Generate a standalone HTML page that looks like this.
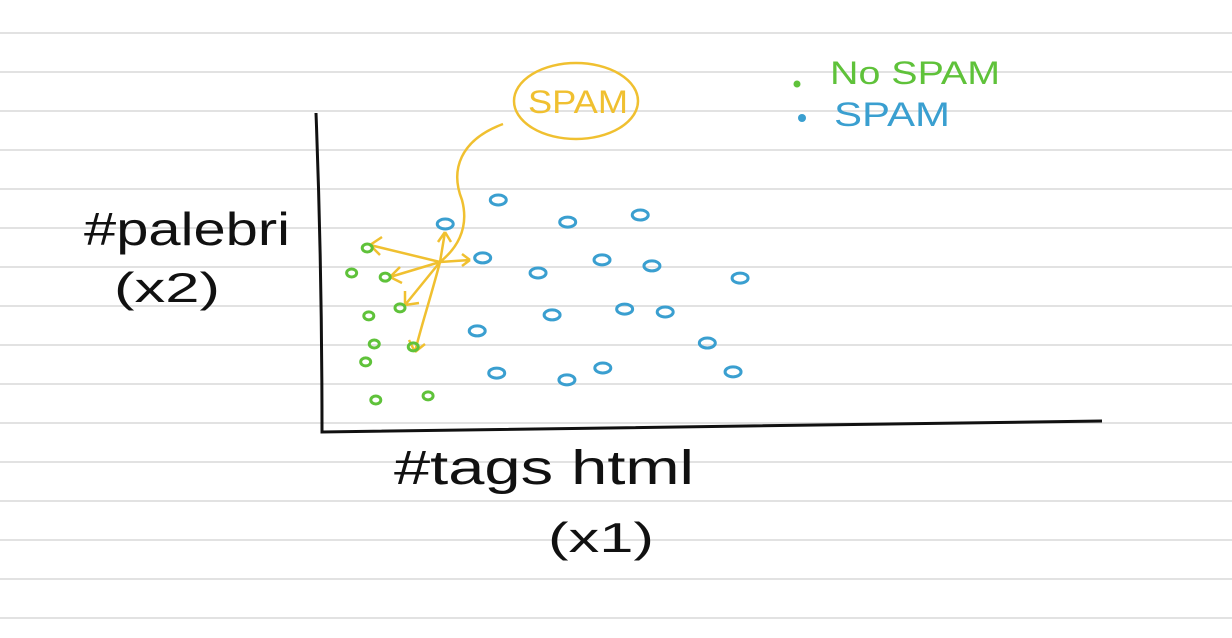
<!DOCTYPE html>
<html><head><meta charset="utf-8"><style>
html,body{margin:0;padding:0;background:#fff;}
svg{display:block;}
text{font-family:"Liberation Sans",sans-serif;}
</style></head><body>
<svg id="c" width="1232" height="638" viewBox="0 0 1232 638">
<g id="lines"></g>
<path d="M316,113 Q322,270 322,432 L1102,421" fill="none" stroke="#111" stroke-width="3"/>
<text x="84" y="245" font-size="46" textLength="206" lengthAdjust="spacingAndGlyphs" fill="#111">#palebri</text>
<text x="114" y="302" font-size="42" textLength="106" lengthAdjust="spacingAndGlyphs" fill="#111">(x2)</text>
<text x="394" y="484" font-size="48" textLength="300" lengthAdjust="spacingAndGlyphs" fill="#111">#tags html</text>
<text x="548" y="552" font-size="42" textLength="106" lengthAdjust="spacingAndGlyphs" fill="#111">(x1)</text>
<circle cx="797" cy="84" r="3.5" fill="#5fc23a"/>
<text x="830" y="84" font-size="32" textLength="170" lengthAdjust="spacingAndGlyphs" fill="#5fc23a">No SPAM</text>
<circle cx="802" cy="118" r="4" fill="#3a9fd0"/>
<text x="834" y="126" font-size="34" textLength="116" lengthAdjust="spacingAndGlyphs" fill="#3a9fd0">SPAM</text>
<ellipse cx="576" cy="101" rx="62" ry="38" fill="none" stroke="#f0c030" stroke-width="2.5"/>
<text x="528" y="113" font-size="32" textLength="100" lengthAdjust="spacingAndGlyphs" fill="#f0c030">SPAM</text>
<path d="M503,124 C460,140 450,170 462,200 C470,230 455,250 440,262 M440,262 C430,300 420,330 415,352" fill="none" stroke="#f0c030" stroke-width="2.5"/>
<g id="arrows" stroke="#f0c030" stroke-width="2.5" fill="none">
<path d="M440,262 L370,245 M370,245 l12,-8 M370,245 l10,10"/>
<path d="M440,262 L390,277 M390,277 l10,-10 M390,277 l12,6"/>
<path d="M440,262 L405,305 M405,305 l0,-14 M405,305 l14,-2"/>
<path d="M440,262 L445,232 M445,232 l-7,10 M445,232 l6,10"/>
<path d="M440,262 L470,260 M470,260 l-8,-6 M470,260 l-8,6"/>
<path d="M415,352 l-6,-12 M415,352 l10,-8"/>
</g>
<g id="pts"></g>
</svg>
<script>
const spamX=[22.6,15.8,31.5,40.8,20.6,27.7,35.9,42.3,53.6,29.5,38.8,44,19.9,49.4,22.4,31.4,36,52.7];
const spamY=[72.5,65,65.6,67.8,54.4,49.7,53.8,51.9,48.1,36.6,38.4,37.5,31.6,27.8,18.4,16.3,20,18.8];
const hamX=[5.8,3.8,8.1,10,6,6.7,11.7,5.6,6.9,13.6];
const hamY=[57.5,49.7,48.4,38.8,36.3,27.5,26.6,21.9,10,11.3];
const NS="http://www.w3.org/2000/svg";
function sx(v){return 322+v*7.8;}
function sy(v){return 432-v*3.2;}
const lg=document.getElementById('lines');
for(let k=0;k<16;k++){
  const y=33+k*39;
  const l=document.createElementNS(NS,'line');
  l.setAttribute('x1',0);l.setAttribute('x2',1232);l.setAttribute('y1',y);l.setAttribute('y2',y);
  l.setAttribute('stroke','#d8d8d8');l.setAttribute('stroke-width','1.5');
  
  
  lg.appendChild(l);
}
const pg=document.getElementById('pts');
function dot(x,y,col,name,big){
  const e=document.createElementNS(NS,'ellipse');
  e.setAttribute('cx',sx(x));e.setAttribute('cy',sy(y));
  e.setAttribute('rx',big?8:5);e.setAttribute('ry',big?5:4);
  e.setAttribute('fill','none');e.setAttribute('stroke',col);e.setAttribute('stroke-width','3');
  
  
  pg.appendChild(e);
}
for(let i=0;i<spamX.length;i++){dot(spamX[i],spamY[i],'#3a9fd0','spam-point',true);}
for(let i=0;i<hamX.length;i++){dot(hamX[i],hamY[i],'#5fc23a','no-spam-point',false);}
</script>
</body></html>
